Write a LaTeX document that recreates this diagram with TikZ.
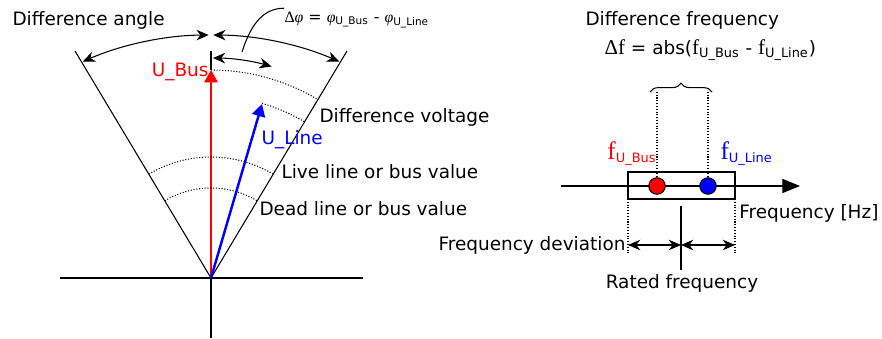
\documentclass[tikz,border=0pt]{standalone}
\usepackage{fontspec}
\setmainfont{DejaVu Sans}
\newfontfamily\symfont{Liberation Serif}
\usepackage{tikz}
\usetikzlibrary{arrows.meta,decorations.pathreplacing,positioning}

\begin{document}
\begin{tikzpicture}[x=0.02cm, y=0.02cm, semithick, >={Stealth[length=7pt,width=6pt]},
    font=\fontsize{10.5}{12.6}\selectfont,
    lbl/.style={inner sep=0pt},
    vec/.style={line width=1.4pt, -{Triangle[length=7pt,width=7.5pt]}},
    guide/.style={densely dotted},
    dot/.style={circle, draw, inner sep=0pt, minimum size=0.33cm}]
    \useasboundingbox (0,0) rectangle (882,338);
    % phasor side
    \coordinate (O) at (211,60);
    \coordinate (C) at (211,-20);
    \coordinate (lefttop) at (75,287);
    \coordinate (righttop) at (347,287);
    \coordinate (bustip) at (211,268);
    \coordinate (bustop) at (211,287);
    \coordinate (linetip) at (262,234);
    \coordinate (phiarc) at (242,286);
    \draw (60,60) -- (363,60);
    \draw (O) -- (211,0);
    \draw (O) -- (lefttop);
    \draw (O) -- (righttop);
    \draw (bustip) -- (bustop);
    \draw[vec, red] (O) -- (bustip);
    \draw[vec, blue] (O) -- (linetip);
    \foreach \r/\a/\b in {208/90/59.1, 182/73.7/59.1, 121/120.9/59.1, 90/120.9/59.1} {
        \draw[guide] (O) ++(\a:\r) arc[start angle=\a, end angle=\b, radius=\r];
    }
    \draw[<->] (C) ++(113.4:323) arc[start angle=113.4, end angle=90.4, radius=323];
    \draw[<->] (C) ++(66.6:323) arc[start angle=66.6, end angle=89.6, radius=323];
    \draw[<->] (O) ++(89.5:220) arc[start angle=89.5, end angle=74, radius=220];
    \node[lbl, anchor=west] (angle) at (12,318) {Difference angle};
    \node[lbl, anchor=east, red] (ubus) at (209,266) {U\_Bus};
    \node[lbl, anchor=west, blue] (uline) at (261,198) {U\_Line};
    \node[lbl, anchor=west] (live) at (281,166) {Live line or bus value};
    \node[lbl, anchor=west] (dead) at (259,129) {Dead line or bus value};
    \node[lbl, anchor=west] (dvolt) at (319,221) {Difference voltage};
    \node[lbl, anchor=west, font=\small] (dphi) at (284,318)
        {{\symfont Δ\textit{φ}} = {\symfont\textit{φ}}\textsubscript{U\_Bus} - {\symfont\textit{φ}}\textsubscript{U\_Line}};
    \draw (phiarc) to[out=72, in=180] ([yshift=2pt]dphi.north west);
    % frequency side
    \coordinate (bl) at (657,246);
    \coordinate (br) at (708,246);
    \coordinate (rtop) at (681,132);
    \coordinate (rbot) at (681,68);
    \coordinate (devl) at (628,93);
    \coordinate (devm) at (681,93);
    \coordinate (devr) at (735,93);
    \draw[-{Triangle[length=10pt,width=8pt]}] (561,152) -- (800,152);
    \draw (628,139) rectangle (735,166);
    \draw[decorate, decoration={brace, amplitude=5pt}] (650,246) -- (712,246);
    \node[dot, fill=red] (fbus) at (657,152) {};
    \node[dot, fill=blue] (fline) at (708,152) {};
    \draw[guide] (fbus) -- (bl);
    \draw[guide] (fline) -- (br);
    \draw[guide] (628,139) -- (628,85);
    \draw[guide] (735,139) -- (735,85);
    \draw (rtop) -- (rbot);
    \draw[<->] (devl) -- (devm);
    \draw[<->] (devm) -- (devr);
    \node[lbl, anchor=west] (dfreq) at (585,318) {Difference frequency};
    \node[lbl, anchor=west] (dfform) at (604,288)
        {{\symfont\large Δf} = abs({\symfont\large f}\textsubscript{U\_Bus} - {\symfont\large f}\textsubscript{U\_Line})};
    \node[lbl, anchor=south east, red] (fbuslbl) at (657,172) {{\symfont\Large f}\textsubscript{U\_Bus}};
    \node[lbl, anchor=south west, blue] (flinelbl) at (720,172) {{\symfont\Large f}\textsubscript{U\_Line}};
    \node[lbl, anchor=east] (hz) at (879,125) {Frequency [Hz]};
    \node[lbl, anchor=east] (dev) at (626,93) {Frequency deviation};
    \node[lbl] (rated) at (682,55) {Rated frequency};
\end{tikzpicture}
\end{document}
